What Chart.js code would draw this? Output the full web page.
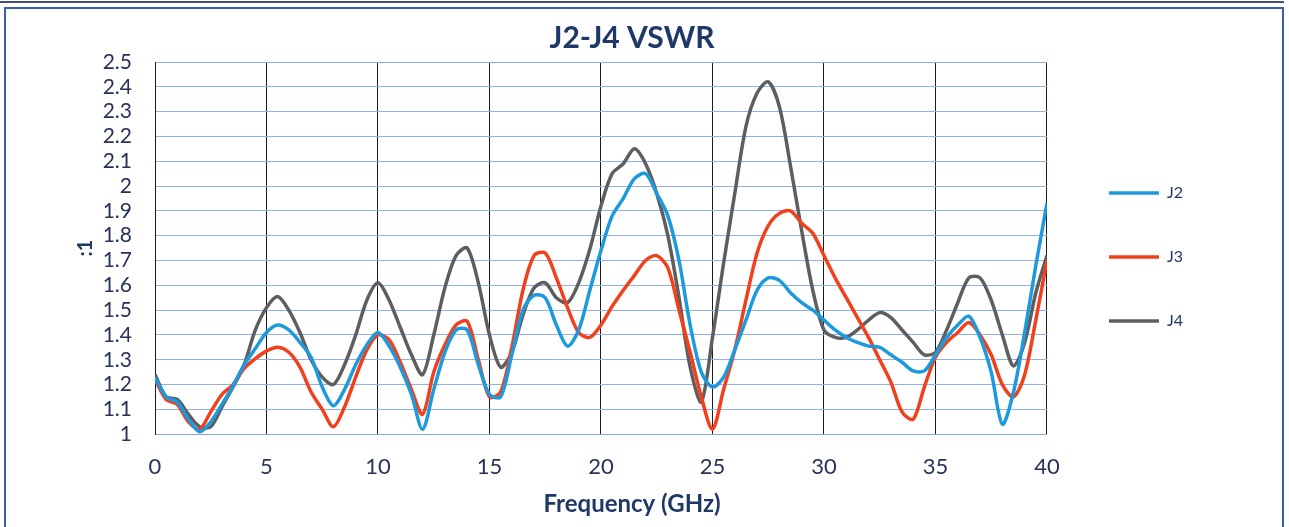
<!DOCTYPE html>
<html>
<head>
<meta charset="utf-8">
<script src="https://cdn.jsdelivr.net/npm/chart.js"></script>
<style>
  html, body { margin: 0; padding: 0; background: #fff; }
  body { width: 1289px; height: 527px; position: relative; overflow: hidden; }
  .topline { position: absolute; left: 0; top: 1px; width: 1284px; height: 2px; background: #45506c; }
  .frame { position: absolute; left: 4px; top: 7px; width: 1276px; height: 540px; border: 2px solid #3b5ea8; }
  #myChart { position: absolute; left: 0; top: 0; }
</style>
</head>
<body>
<div class="topline"></div>
<div class="frame"></div>
<canvas id="myChart" width="1289" height="527"></canvas>
<script>
// frequency in GHz
const freq = [
    0, 0.5, 1, 1.5, 2, 2.5, 3, 3.5, 4, 4.5,
    5, 5.5, 6, 6.5, 7, 7.5, 8, 8.5, 9, 9.5,
    10, 10.5, 11, 11.5, 12, 12.5, 13, 13.5, 14, 14.5,
    15, 15.5, 16, 16.5, 17, 17.5, 18, 18.5, 19, 19.5,
    20, 20.5, 21, 21.5, 22, 22.5, 23, 23.5, 24, 24.5,
    25, 25.5, 26, 26.5, 27, 27.5, 28, 28.5, 29, 29.5,
    30, 30.5, 31, 31.5, 32, 32.5, 33, 33.5, 34, 34.5,
    35, 35.5, 36, 36.5, 37, 37.5, 38, 38.5, 39, 39.5,
    40
]

const j2 = [
    1.23, 1.15, 1.13, 1.06, 1.01, 1.05, 1.12, 1.195, 1.28, 1.345,
    1.41, 1.44, 1.42, 1.37, 1.31, 1.19, 1.115, 1.18, 1.28, 1.36,
    1.41, 1.355, 1.27, 1.16, 1.02, 1.18, 1.33, 1.42, 1.42, 1.28,
    1.16, 1.15, 1.32, 1.50, 1.56, 1.55, 1.44, 1.355, 1.42, 1.58,
    1.74, 1.88, 1.95, 2.03, 2.05, 1.97, 1.88, 1.70, 1.44, 1.25,
    1.19, 1.23, 1.34, 1.46, 1.58, 1.63, 1.62, 1.57, 1.53, 1.50,
    1.46, 1.42, 1.39, 1.37, 1.355, 1.35, 1.32, 1.29, 1.255, 1.255,
    1.32, 1.39, 1.44, 1.475, 1.39, 1.25, 1.04, 1.17, 1.41, 1.68,
    1.93
]

const j3 = [
    1.22, 1.14, 1.12, 1.05, 1.02, 1.09, 1.16, 1.20, 1.265, 1.305,
    1.335, 1.35, 1.33, 1.27, 1.17, 1.10, 1.03, 1.11, 1.23, 1.34,
    1.40, 1.38, 1.29, 1.18, 1.08, 1.25, 1.36, 1.44, 1.455, 1.30,
    1.15, 1.17, 1.35, 1.58, 1.72, 1.73, 1.63, 1.51, 1.41, 1.39,
    1.44, 1.515, 1.58, 1.64, 1.70, 1.72, 1.67, 1.50, 1.33, 1.15,
    1.02, 1.18, 1.34, 1.54, 1.73, 1.84, 1.89, 1.90, 1.85, 1.81,
    1.72, 1.63, 1.55, 1.47, 1.39, 1.30, 1.21, 1.09, 1.06, 1.19,
    1.31, 1.37, 1.41, 1.45, 1.40, 1.32, 1.20, 1.15, 1.24, 1.46,
    1.70
]

const j4 = [
    1.24, 1.15, 1.14, 1.08, 1.03, 1.03, 1.11, 1.19, 1.28, 1.42,
    1.51, 1.555, 1.50, 1.41, 1.30, 1.23, 1.20, 1.28, 1.40, 1.54,
    1.61, 1.54, 1.43, 1.32, 1.24, 1.40, 1.59, 1.72, 1.75, 1.61,
    1.40, 1.27, 1.33, 1.48, 1.59, 1.61, 1.55, 1.53, 1.61, 1.745,
    1.92, 2.05, 2.09, 2.15, 2.09, 1.97, 1.80, 1.55, 1.27, 1.13,
    1.39, 1.69, 1.97, 2.24, 2.375, 2.42, 2.32, 2.08, 1.82, 1.58,
    1.42, 1.39, 1.39, 1.42, 1.46, 1.49, 1.47, 1.42, 1.37, 1.32,
    1.33, 1.42, 1.53, 1.63, 1.63, 1.54, 1.40, 1.275, 1.37, 1.57,
    1.72
]

const seriesNames = ['J2', 'J3', 'J4']
const seriesColors = ['#1d9ade', '#f2401c', '#5e5e5e']

const navy = '#1f3868'
const tickColor = '#27325a'

Chart.defaults.font.family = 'Lato, "Open Sans", sans-serif'

const toPoints = values => values.map((v, i) => ({ x: freq[i], y: v }))

const datasets = [j2, j3, j4].map((values, i) => ({
    label: seriesNames[i],
    data: toPoints(values),
    borderColor: seriesColors[i],
    backgroundColor: seriesColors[i],
    borderWidth: 3.5,
    pointRadius: 0,
    tension: 0.3
}))

const ctx = document.getElementById('myChart')
const vswrChart = new Chart(ctx, {
    type: 'line',
    data: { datasets },
    options: {
        responsive: false,
        animation: false,
        layout: { padding: { left: 71, right: 96, top: 0, bottom: 13 } },
        plugins: {
            title: {
                display: true,
                text: 'J2-J4 VSWR',
                color: navy,
                font: { size: 30, weight: 'bold' },
                padding: { top: 20, bottom: 6 }
            },
            subtitle: {
                display: true,
                position: 'bottom',
                text: 'Frequency (GHz)',
                color: navy,
                font: { size: 24, weight: 'bold' },
                padding: { top: 0, bottom: -5 }
            },
            legend: {
                position: 'right',
                labels: {
                    usePointStyle: true,
                    pointStyle: 'line',
                    pointStyleWidth: 50,
                    padding: 48,
                    color: navy,
                    font: { size: 16 }
                }
            },
            tooltip: { enabled: false }
        },
        scales: {
            x: {
                type: 'linear',
                min: 0,
                max: 40,
                ticks: { stepSize: 5, color: tickColor, font: { size: 22 }, padding: 20 },
                grid: { color: '#1c1c1c', drawTicks: false },
                border: { color: '#86a8de' },
                afterFit: scale => { scale.height = 56 }
            },
            y: {
                min: 1,
                max: 2.5,
                ticks: {
                    stepSize: 0.1,
                    autoSkip: false,
                    color: tickColor,
                    font: { size: 21 },
                    padding: 23,
                    callback: v => String(Number(v.toFixed(1)))
                },
                grid: { color: '#92b1e2', drawTicks: false },
                border: { color: '#1c1c1c' },
                title: {
                    display: true,
                    text: ':1',
                    color: navy,
                    font: { size: 20, weight: 'bold' },
                    padding: { top: 3, bottom: 0 }
                },
                afterFit: scale => { scale.width = 84 }
            },
            // empty axis, only keeps a gap between plot and legend
            gap: {
                type: 'linear',
                position: 'right',
                ticks: { display: false },
                grid: { display: false },
                border: { display: false },
                afterFit: scale => { scale.width = 14 }
            }
        }
    }
})
</script>
</body>
</html>
